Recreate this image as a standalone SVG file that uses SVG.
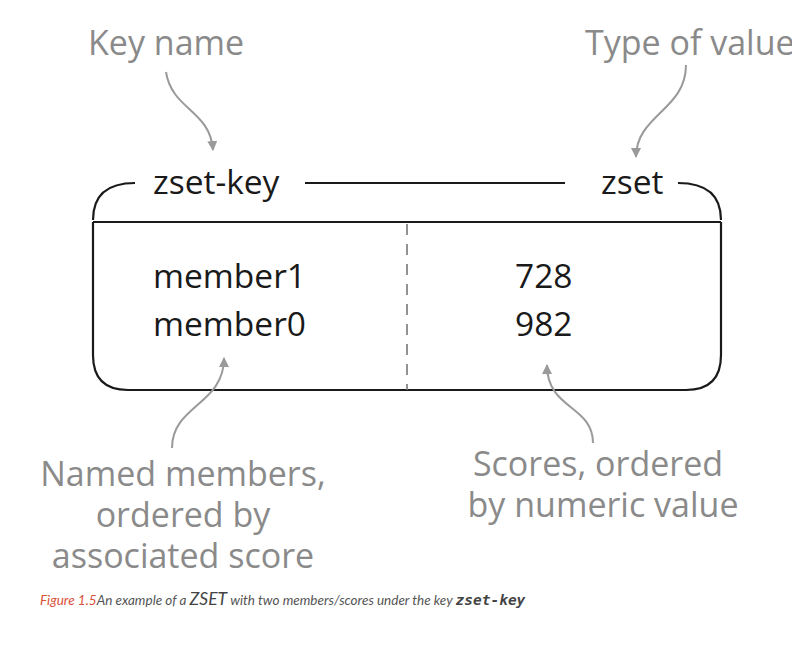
<svg xmlns="http://www.w3.org/2000/svg" width="792" height="648" viewBox="0 0 792 648">
<style>
.lbl{font-family:"Open Sans","Noto Sans",sans-serif;font-size:34px;fill:#8a8a8a}
.txt{font-family:"Open Sans","Noto Sans",sans-serif;font-size:33.5px;fill:#1a1a1a}
.box{fill:none;stroke:#1a1a1a;stroke-width:2.2}
.arr{fill:none;stroke:#9a9a9a;stroke-width:2}
.cap{font-family:Lato,"Open Sans",sans-serif;font-size:13.5px;font-style:italic;fill:#555}
</style>
<defs>
<marker id="ah" viewBox="0 0 10 10" refX="9" refY="5" markerWidth="10" markerHeight="10" markerUnits="userSpaceOnUse" orient="auto">
<path d="M0,0 L10,5 L0,10 z" fill="#9a9a9a"/>
</marker>
</defs>
<rect width="792" height="648" fill="#ffffff"/>
<g id="zset-box">
<path class="box" d="M135,183 Q93,183 93,220"/>
<path class="box" d="M305,183 H565"/>
<path class="box" d="M678,183 Q721,183 721,220"/>
<path class="box" d="M93,222 H721"/>
<path class="box" d="M93,222 V355 Q93,390 128,390 H686 Q721,390 721,355 V222"/>
<path d="M407,224 V390" fill="none" stroke="#777" stroke-width="1.6" stroke-dasharray="11,9"/>
<text class="txt" x="153" y="194">zset-key</text>
<text class="txt" x="601" y="194">zset</text>
<text class="txt" x="153" y="288">member1</text>
<text class="txt" x="153" y="336">member0</text>
<text class="txt" x="515" y="288">728</text>
<text class="txt" x="515" y="336">982</text>
</g>
<g id="label-key-name"><text class="lbl" x="88" y="55">Key name</text></g>
<g id="label-type"><text class="lbl" x="585" y="55">Type of value</text></g>
<g id="label-members"><text class="lbl" text-anchor="middle"><tspan x="183" y="486">Named members,</tspan><tspan x="183" y="527">ordered by</tspan><tspan x="183" y="568">associated score</tspan></text></g>
<g id="label-scores"><text class="lbl" text-anchor="middle"><tspan x="598" y="476">Scores, ordered</tspan><tspan x="603" y="517">by numeric value</tspan></text></g>
<g id="connectors">
<path class="arr" marker-end="url(#ah)" d="M166,72 C172,110 210,110 213,150"/>
<path class="arr" marker-end="url(#ah)" d="M686,65 C686,110 636,115 636,157"/>
<path class="arr" marker-end="url(#ah)" d="M172,448 C172,405 224,405 224,358"/>
<path class="arr" marker-end="url(#ah)" d="M593,443 C593,405 547,410 547,365"/>
</g>
<g id="caption">
<text class="cap" x="40" y="605"><tspan fill="#d9503a">Figure 1.5</tspan>An example of a <tspan font-size="17.5px" fill="#444">ZSET</tspan> with two members/scores under the key <tspan font-family="'DejaVu Sans Mono',monospace" font-size="14.5px" font-weight="bold" fill="#444">zset-key</tspan></text>
</g>
</svg>
